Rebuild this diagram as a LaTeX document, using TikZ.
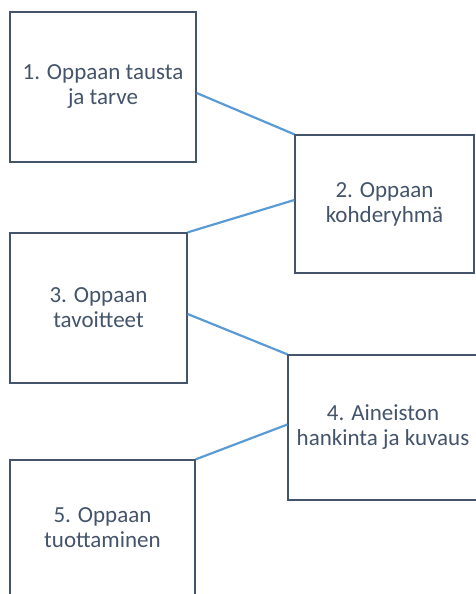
\documentclass[tikz,border=0pt]{standalone}
\usepackage{fontspec}
\setmainfont{Carlito}
\usetikzlibrary{calc}
\definecolor{textgray}{HTML}{44546A}
\definecolor{linkblue}{HTML}{5B9BD5}

\begin{document}
\begin{tikzpicture}[x=1pt,y=-1pt,
    phase/.style={draw=textgray,line width=1.3pt,fill=white,text=textgray,
      align=center,inner sep=0pt,font=\fontsize{23}{25}\selectfont}]
      \useasboundingbox (0,0) rectangle (476,594);
      \draw
        (103,87) node[phase,minimum width=186pt,minimum height=150pt] (1){1. Oppaan tausta\\ja tarve}
        (384.5,204) node[phase,minimum width=179pt,minimum height=138pt] (2){2. Oppaan\\kohderyhmä}
        (98.5,308) node[phase,minimum width=177pt,minimum height=150pt] (3){3. Oppaan\\tavoitteet}
        (383,427.5) node[phase,minimum width=190pt,minimum height=145pt] (4){4. Aineiston\\hankinta ja kuvaus}
        (102.5,528) node[phase,minimum width=185pt,minimum height=136pt] (5){5. Oppaan\\tuottaminen};
      \begin{scope}[-,draw=linkblue,line width=2.2pt]
        \draw ($(1.east)+(0,6)$) -- (2.north west);
        \draw ($(2.west)+(0,-4)$) -- (3.north east);
        \draw ($(3.east)+(0,6)$) -- (4.north west);
        \draw ($(4.west)+(0,-3)$) -- (5.north east);
      \end{scope}
    \end{tikzpicture}
\end{document}
